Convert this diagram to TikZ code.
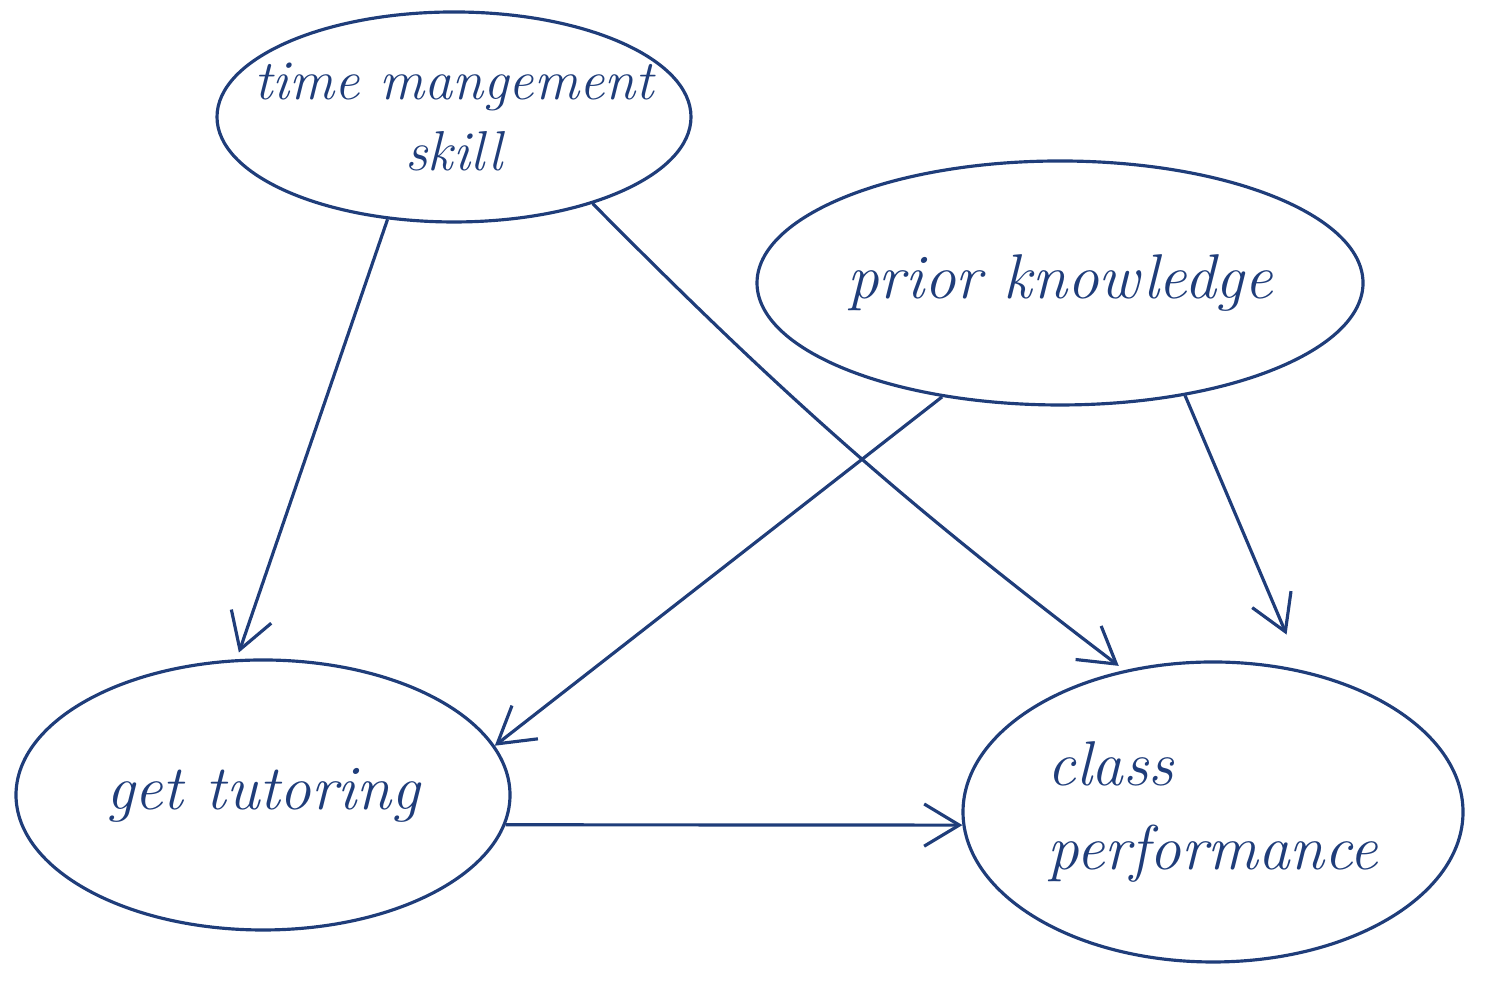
\documentclass[tikz,border=0pt]{standalone}
\usetikzlibrary{shapes.geometric,arrows.meta}
\definecolor{ink}{HTML}{1F3D7A}

\begin{document}
\begin{tikzpicture}[
    bubble/.style={ellipse,draw=ink,line width=0.9pt,inner sep=0pt,text=ink,
        font=\fontsize{18}{24}\selectfont\itshape},
    link/.style={draw=ink,line width=0.9pt,-{Straight Barb[length=10pt,width=12pt]}}]
\useasboundingbox (0,0) rectangle (14.87,10);
% the four variables
\node[bubble,minimum width=4.74cm,minimum height=2.1cm,inner xsep=-0.4cm,align=center,
    font=\fontsize{16}{20}\selectfont\itshape] (tms) at (4.54,8.83) {time mangement\\skill};
\node[bubble,minimum width=6.06cm,minimum height=2.44cm] (prior) at (10.6,7.17) {prior knowledge};
\node[bubble,minimum width=4.94cm,minimum height=2.7cm] (tutor) at (2.63,2.05) {get tutoring};
\node[bubble,minimum width=5.0cm,minimum height=3.0cm,align=left] (perf) at (12.13,1.88) {class\\performance};
% arrows
\draw[link,shorten >=2pt] (tms.237) -- (tutor.101);
\draw[link,shorten >=2pt] (tms.328) to[bend right=4] (perf.122);
\draw[link] (prior.224) -- (tutor.12);
\draw[link,shorten >=11pt] (prior.318) -- (perf.58);
\draw[link] (tutor.353) -- (perf.183);
\end{tikzpicture}
\end{document}
